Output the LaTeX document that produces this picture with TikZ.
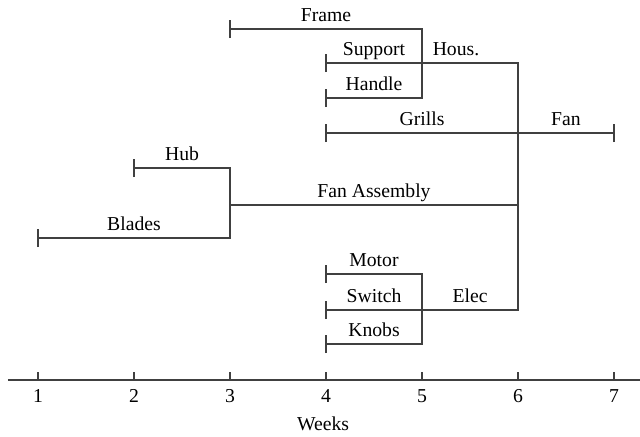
\documentclass[tikz,border=0pt]{standalone}
\usepackage{fontspec}
\setmainfont{Liberation Serif}
\usetikzlibrary{calc}
\definecolor{barline}{HTML}{404040}

\begin{document}
\begin{tikzpicture}[
    x=2.4cm, y=-0.025cm,
    bar/.style={draw=barline, line width=0.9pt},
    task/.style={anchor=base, inner sep=0pt, yshift=5pt, font=\fontsize{14}{16}\selectfont},
    axislabel/.style={anchor=base, inner sep=0pt, font=\fontsize{14}{16}\selectfont},
]
\useasboundingbox (0.6042,0) rectangle (7.2708,437);

% start points of the tasks
\coordinate (frame) at (3,29);
\coordinate (support) at (4,63);
\coordinate (handle) at (4,98);
\coordinate (grills) at (4,133);
\coordinate (hub) at (2,168);
\coordinate (asm) at (3,205);
\coordinate (blades) at (1,238);
\coordinate (motor) at (4,274);
\coordinate (switch) at (4,310);
\coordinate (knobs) at (4,344);
\coordinate (fan) at (7,133);

% joins
\coordinate (housJ) at (5,63);
\coordinate (elecJ) at (5,310);
\coordinate (fanJ) at (6,133);

% bars
\draw[bar] (frame) -| (housJ |- handle) -- (handle);
\draw[bar] (support) -| (fanJ |- switch) -- (switch);
\draw[bar] (grills) -- (fan);
\draw[bar] (hub) -| (asm |- blades) -- (blades);
\draw[bar] (asm) -- (asm -| fanJ);
\draw[bar] (motor) -| (elecJ |- knobs) -- (knobs);

% end ticks
\foreach \t in {frame,support,handle,grills,hub,blades,motor,switch,knobs,fan}
    \draw[bar] ([yshift=-6.5pt]\t) -- ([yshift=6.5pt]\t);

% labels
\node[task] (lFrame) at (4,29) {Frame};
\node[task] (lSupport) at (4.5,63) {Support};
\node[task] (lHous) at (5.354,63) {Hous.};
\node[task] (lHandle) at (4.5,98) {Handle};
\node[task] (lGrills) at (5,133) {Grills};
\node[task] (lFan) at (6.5,133) {Fan};
\node[task] (lHub) at (2.5,168) {Hub};
\node[task] (lAsm) at (4.5,205) {Fan Assembly};
\node[task] (lBlades) at (2,238) {Blades};
\node[task] (lMotor) at (4.5,274) {Motor};
\node[task] (lSwitch) at (4.5,310) {Switch};
\node[task] (lElec) at (5.5,310) {Elec};
\node[task] (lKnobs) at (4.5,344) {Knobs};

% time axis
\coordinate (axisL) at (0.6875,380);
\coordinate (axisR) at (7.2708,380);
\draw[bar] (axisL) -- (axisR);
\foreach \w in {1,...,7} {
    \draw[bar] (\w,380) -- (\w,372);
    \node[axislabel] (w\w) at (\w,403) {\w};
}
\node[axislabel] (weeks) at (3.97,431) {Weeks};

\end{tikzpicture}
\end{document}
